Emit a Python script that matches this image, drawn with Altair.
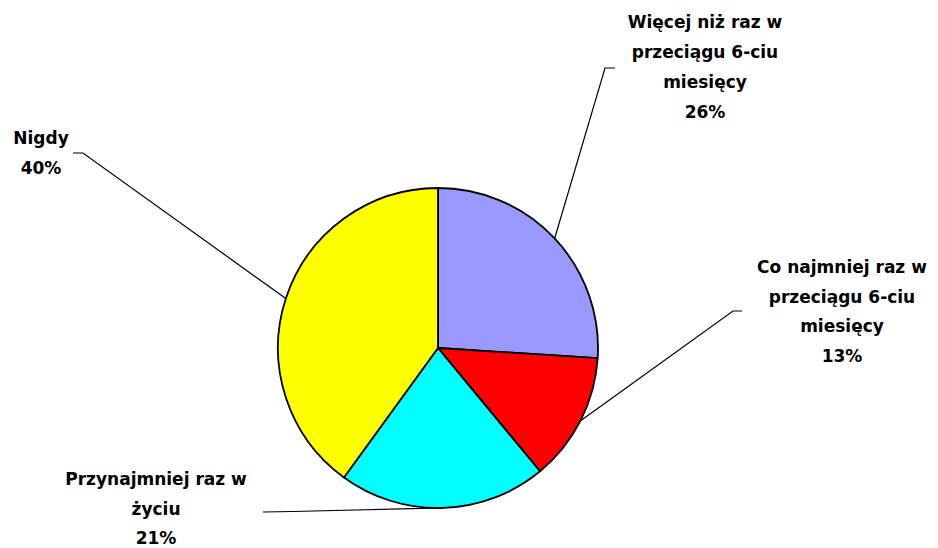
import altair as alt
import numpy as np
import pandas as pd

# ---- data ----
categories = [
    "Więcej niż raz w przeciągu 6-ciu miesięcy",
    "Co najmniej raz w przeciągu 6-ciu miesięcy",
    "Przynajmniej raz w życiu",
    "Nigdy",
]
label_lines = [
    ["Więcej niż raz w", "przeciągu 6-ciu", "miesięcy"],
    ["Co najmniej raz w", "przeciągu 6-ciu", "miesięcy"],
    ["Przynajmniej raz w", "życiu"],
    ["Nigdy"],
]
values = [26, 13, 21, 40]
colors = ["#9999FF", "#FF0000", "#00FFFF", "#FFFF00"]

# ---- layout (chart pixel coordinates) ----
W, H = 922, 540
CX, CY, R = 430, 340, 160
label_cx = [697, 834, 148, 33]
label_y0 = [15, 260, 472, 131]
line_gap = [30, 29.5, 29.5, 30]
leader_start = [(607, 60), (734, 303), (255, 504), (65, 145)]
leader_elbow = [(597, 60), (725, 303), (285, 503.5), (75, 145)]

# ---- derived tables ----
pie_df = pd.DataFrame({"cat": categories, "value": values, "order": range(len(values))})

total = float(sum(values))
cum = np.cumsum([0] + values[:-1])
mid_angles = [(c + v / 2) / total * 2 * np.pi for c, v in zip(cum, values)]

line_rows = []
for i, ang in enumerate(mid_angles):
    ex = CX + R * np.sin(ang)
    ey = CY - R * np.cos(ang)
    pts = [leader_start[i], leader_elbow[i], (ex, ey)]
    for k, (px, py) in enumerate(pts):
        line_rows.append({"cat": categories[i], "k": k, "x": px, "y": py})
line_df = pd.DataFrame(line_rows)

text_rows = []
for i in range(len(categories)):
    lines = label_lines[i] + [f"{values[i]}%"]
    for j, t in enumerate(lines):
        text_rows.append({"cat": categories[i], "text": t,
                          "x": label_cx[i], "y": label_y0[i] + j * line_gap[i]})
text_df = pd.DataFrame(text_rows)

xs = alt.Scale(domain=[0, W], range=[0, W])
ys = alt.Scale(domain=[0, H], range=[0, H])

pie = alt.Chart(pie_df).mark_arc(
    radius=R, stroke="black", strokeWidth=1.8, strokeJoin="round"
).encode(
    theta=alt.Theta("value:Q", stack=True),
    color=alt.Color("cat:N", scale=alt.Scale(domain=categories, range=colors), legend=None),
    order=alt.Order("order:Q"),
    x=alt.value(CX),
    y=alt.value(CY),
)

leaders = alt.Chart(line_df).mark_line(color="black", strokeWidth=1.2).encode(
    x=alt.X("x:Q", scale=xs, axis=None),
    y=alt.Y("y:Q", scale=ys, axis=None),
    detail="cat:N",
    order="k:Q",
)

labels = alt.Chart(text_df).mark_text(
    font="DejaVu Sans", fontWeight="bold", fontSize=17, color="black",
    align="center", baseline="middle",
).encode(
    x=alt.X("x:Q", scale=xs, axis=None),
    y=alt.Y("y:Q", scale=ys, axis=None),
    text="text:N",
)

chart = alt.layer(pie, leaders, labels).properties(
    width=W, height=H, padding=0, background="white",
    autosize=alt.AutoSizeParams(type="none"),
).configure_view(stroke=None)

chart.save("out.html", embed_options={"renderer": "svg", "actions": False})
